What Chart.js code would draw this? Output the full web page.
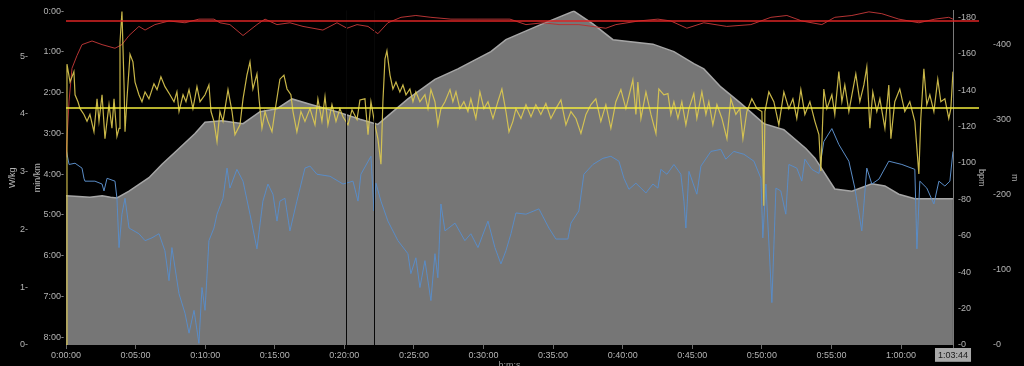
<!DOCTYPE html>
<html>
<head>
<meta charset="utf-8">
<script src="https://cdn.jsdelivr.net/npm/chart.js@4/dist/chart.umd.min.js"></script>
<style>
  html, body { margin: 0; padding: 0; background: #000; }
  canvas { display: block; }
</style>
</head>
<body>
<canvas id="activity-chart" width="1024" height="366"></canvas>
<script>
// time values are in minutes from start
let powerT = [
  0,0.07,0.29,0.57,0.65,0.86,1.01,1.29,1.51,1.72,
  2.01,2.23,2.37,2.59,2.80,3.09,3.30,3.45,3.66,3.81,
  3.88,4.02,4.17,4.24,4.38,4.53,4.60,4.81,4.96,5.24,
  5.46,5.68,5.96,6.32,6.54,6.82,7.11,7.47,7.76,7.97,
  8.12,8.41,8.62,8.84,9.12,9.41,9.63,9.99,10.27,10.42,
  10.63,10.85,11.06,11.28,11.64,11.93,12.14,12.50,12.72,13.00,
  13.22,13.43,13.72,13.87,14.08,14.30,14.51,14.80,15.01,15.37,
  15.66,15.88,16.16,16.31,16.59,16.88,17.17,17.53,17.89,18.10,
  18.39,18.61,18.82,19.11,19.40,19.68,19.90,20.26,20.55,20.91,
  21.12,21.48,21.70,21.91,22.20,22.41,22.63,22.77,22.92,23.06,
  23.28,23.49,23.71,23.99,24.21,24.43,24.71,24.93,25.14,25.43,
  25.79,26.01,26.22,26.51,26.72,26.94,27.23,27.59,27.80,28.02,
  28.30,28.59,28.88,29.09,29.45,29.74,30.03,30.32,30.68,31.03,
  31.32,31.61,31.83,32.11,32.33,32.69,33.05,33.41,33.76,34.12,
  34.48,34.84,35.20,35.56,35.92,36.28,36.64,37.00,37.36,37.72,
  38.07,38.43,38.79,39.15,39.51,39.87,40.23,40.73,40.95,41.09,
  41.31,41.67,42.03,42.39,42.60,42.96,43.25,43.46,43.68,43.97,
  44.25,44.54,44.76,45.11,45.33,45.69,45.98,46.19,46.48,46.77,
  47.13,47.49,47.77,48.13,48.42,48.64,48.92,49.28,49.64,50.00,
  50.14,50.22,50.50,50.86,51.22,51.58,51.94,52.23,52.51,52.80,
  53.09,53.45,53.81,54.10,54.24,54.45,54.67,55.03,55.24,55.53,
  55.75,55.96,56.25,56.47,56.75,57.04,57.33,57.54,57.76,57.97,
  58.26,58.48,58.84,59.12,59.27,59.55,59.91,60.27,60.63,60.99,
  61.14,61.28,61.42,61.64,61.85,62.07,62.36,62.64,62.86,63.15,
  63.43,63.58,63.73
];
let powerWkg = [
  0,4.86,4.55,4.73,4.33,4.21,4.09,3.99,3.87,3.99,
  3.69,4.26,3.87,4.33,3.57,4.16,3.75,4.26,3.61,3.75,
  5.24,5.77,4.50,3.69,4.26,4.78,5.03,4.90,4.55,4.33,
  4.21,4.38,4.26,4.52,4.42,4.64,4.47,4.33,4.21,4.38,
  4.04,4.33,4.21,4.42,4.09,4.47,4.21,4.33,4.50,4.04,
  3.87,3.52,4.04,3.87,4.42,4.04,3.64,3.81,4.26,4.67,
  4.90,4.43,4.69,4.26,3.75,4.04,3.87,3.69,4.04,4.60,
  4.67,4.43,4.33,4.04,3.69,4.04,3.87,4.09,3.81,4.26,
  3.87,4.30,3.81,4.16,3.87,4.09,3.95,3.81,4.07,3.90,
  4.24,4.26,3.64,4.21,3.81,3.57,3.13,4.21,4.95,5.09,
  4.67,4.43,4.55,4.38,4.50,4.33,4.43,4.21,4.38,4.21,
  4.33,4.09,4.42,4.21,3.81,4.09,4.21,4.42,4.21,4.38,
  4.09,4.21,4.04,4.26,3.92,4.38,4.09,4.21,3.92,4.21,
  4.43,4.04,3.69,3.87,4.09,3.92,4.16,3.95,4.16,3.99,
  4.18,3.92,4.09,4.24,3.81,4.04,3.92,3.66,3.99,4.16,
  4.26,3.87,4.16,3.75,4.21,4.42,4.09,4.59,3.99,4.55,
  3.92,4.38,3.99,3.66,4.43,4.33,4.35,3.99,4.21,3.92,
  4.21,3.81,4.09,4.35,3.92,4.38,3.99,4.21,3.81,4.16,
  3.92,3.57,4.26,3.99,4.09,3.57,4.04,4.26,4.09,4.04,
  2.41,4.04,4.38,4.21,3.81,4.38,4.09,4.26,3.92,4.42,
  3.99,4.21,3.87,3.64,3.01,4.43,4.09,4.33,3.99,4.73,
  4.21,4.50,4.04,4.33,4.69,4.21,4.50,4.81,3.75,4.38,
  4.04,4.26,3.75,4.50,3.57,4.21,4.43,4.04,4.21,3.87,
  3.40,2.96,3.92,4.78,4.16,4.33,4.04,4.60,4.21,4.26,
  3.92,4.09,4.73
];
let hrT = [
  0,0.22,0.43,0.79,1.15,1.87,2.59,3.52,4.02,4.53,
  5.24,5.68,6.39,7.40,8.55,9.55,10.63,11.06,11.78,12.72,
  13.72,14.30,15.16,16.09,17.03,18.46,19.47,20.19,20.91,21.70,
  22.41,23.13,24.07,25.14,26.22,27.66,29.60,31.90,33.05,34.27,
  35.42,36.85,38.79,39.51,41.16,42.53,43.46,44.61,45.83,47.48,
  49.21,50.65,51.80,52.87,54.31,55.24,56.47,57.69,58.62,59.84,
  61.28,62.43,63.43,63.73
];
let hrBpm = [
  103,134,152,159,165,167,165,163,165,170,
  175,173,176,178,177,179,179,177,176,170,
  176,179,176,177,175,173,177,174,176,175,
  171,177,180,181,180,179,179,179,176,177,
  176,176,174,176,178,179,178,174,177,175,
  176,180,181,178,176,180,181,183,182,179,
  177,179,180,179
];
let paceT = [
  0,0.22,0.65,1.15,1.29,1.36,2.08,2.59,2.73,2.95,
  3.52,3.66,3.81,4.02,4.24,4.53,5.24,5.68,6.18,6.68,
  7.11,7.40,7.61,8.12,8.55,8.84,9.20,9.55,9.77,9.99,
  10.27,10.63,10.85,11.28,11.57,11.78,12.28,12.72,13.22,13.72,
  14.15,14.51,14.87,15.16,15.37,15.73,16.09,16.59,17.17,17.53,
  18.03,18.97,19.90,20.62,20.98,21.19,21.91,22.13,22.27,22.63,
  23.13,23.85,24.57,24.78,25.14,25.43,25.79,26.22,26.51,26.72,
  26.94,27.23,27.95,28.66,29.09,29.60,30.32,30.82,31.25,31.61,
  31.97,32.33,33.05,33.98,34.70,35.20,36.06,36.28,36.85,37.21,
  37.86,38.58,39.15,39.73,40.09,40.45,40.95,41.67,42.17,42.53,
  42.74,43.18,43.68,44.18,44.40,44.54,44.76,45.33,45.62,46.34,
  47.05,47.41,47.99,48.71,49.43,49.93,50.07,50.29,50.72,51.01,
  51.36,51.72,51.94,52.51,52.87,53.09,53.59,54.10,54.45,55.03,
  55.53,56.25,56.68,57.18,57.54,57.90,58.41,59.12,60.06,60.99,
  61.14,61.35,61.85,62.36,62.72,63.15,63.51,63.73
];
// pace in minutes per km
let paceMin = [
  3.37,3.76,3.73,3.85,4.10,4.17,4.17,4.24,4.41,4.10,
  4.17,4.59,5.80,4.98,4.59,5.32,5.46,5.63,5.56,5.46,
  5.88,6.61,5.80,6.93,7.41,7.90,7.34,8.15,6.78,7.34,
  5.63,5.32,4.98,4.59,3.85,4.34,3.88,4.17,4.98,5.83,
  4.66,4.24,4.49,5.15,4.66,4.59,5.39,4.66,3.85,3.80,
  4.00,4.05,4.24,4.17,4.66,4.00,3.56,4.90,4.22,4.66,
  5.15,5.63,5.95,6.44,6.05,6.78,6.12,7.10,5.95,6.54,
  4.73,5.39,5.20,5.63,5.46,5.80,5.15,5.80,6.20,5.88,
  5.46,4.95,4.98,4.85,5.32,5.59,5.59,5.20,4.90,4.00,
  3.76,3.61,3.56,3.68,4.10,4.37,4.22,4.46,4.24,4.34,
  3.88,4.00,3.76,4.00,4.66,5.32,3.93,4.49,3.80,3.44,
  3.39,3.63,3.44,3.51,3.68,4.10,5.56,4.24,7.15,4.34,
  4.41,4.98,3.76,3.85,4.17,3.63,3.88,3.98,3.20,2.88,
  3.27,3.68,4.34,5.39,3.85,4.24,4.12,3.68,3.76,3.88,
  5.83,4.17,4.34,4.73,4.17,4.29,4.17,3.44
];
let elevT = [
  0,0.9,1.72,2.6,3.2,3.66,4.53,5.96,6.90,8.12,
  9.27,9.99,11.2,12.72,13.94,15.16,16.24,17.53,19.47,21.12,
  22.41,24.57,26.51,28.16,30.53,31.61,33.98,36.49,37.86,39.30,
  42.17,43.68,45.11,45.83,47.05,48.49,50.14,51.58,53.16,53.81,
  55.24,56.47,57.90,58.84,59.84,60.99,62.43,63.73
];
let elevM = [
  199,198,197,199,197,196,205,223,241,262,
  282,297,299,295,311,315,328,321,311,301,
  294,328,354,368,391,407,426,445,428,407,
  401,391,375,368,344,322,295,287,262,249,
  208,205,215,212,201,195,195,195
];
let lapTimes = [20.11, 22.13];
let powerAvg = 4.10;
let hrRef = 178;

let xTicks = [0, 5, 10, 15, 20, 25, 30, 35, 40, 45, 50, 55, 60, 3824 / 60];
let wkgTicks = [0, 1, 2, 3, 4, 5];
let paceTicks = [0, 1, 2, 3, 4, 5, 6, 7, 8];
let bpmTicks = [0, 20, 40, 60, 80, 100, 120, 140, 160, 180];
let elevTicks = [0, 100, 200, 300, 400];

let pad2 = (n) => (n < 10 ? "0" : "") + n;
let hms = (v) => {
  let s = Math.round(v * 60);
  return Math.floor(s / 3600) + ":" + pad2(Math.floor((s % 3600) / 60)) + ":" + pad2(s % 60);
};
let toPoints = (xs, ys) => xs.map((x, i) => ({ x: x, y: ys[i] }));
let setTicks = (vals) => (scale) => {
  scale.ticks = vals.map((v) => ({ value: v }));
};
let fixWidth = (w) => (scale) => {
  scale.width = w;
};

let labelColor = "#b4b4b4";
let tickFont = { size: 9 };
let noGrid = { display: false, drawTicks: false };

// lap markers and average lines
let refLines = {
  id: "refLines",
  afterDatasetsDraw(chart) {
    let { ctx, chartArea, scales } = chart;
    ctx.save();
    ctx.lineWidth = 1;
    ctx.strokeStyle = "#080808";
    lapTimes.forEach((t) => {
      let x = Math.round(scales.x.getPixelForValue(t)) + 0.5;
      ctx.beginPath();
      ctx.moveTo(x, chartArea.top);
      ctx.lineTo(x, chartArea.bottom);
      ctx.stroke();
    });
    ctx.lineWidth = 1.5;
    let yp = scales.wkg.getPixelForValue(powerAvg);
    ctx.strokeStyle = "#f4ec3c";
    ctx.beginPath();
    ctx.moveTo(chartArea.left, yp);
    ctx.lineTo(chartArea.right + 26, yp);
    ctx.stroke();
    let yh = scales.bpm.getPixelForValue(hrRef);
    ctx.strokeStyle = "#dc2424";
    ctx.beginPath();
    ctx.moveTo(chartArea.left, yh);
    ctx.lineTo(chartArea.right + 26, yh);
    ctx.stroke();
    ctx.restore();
  },
};

Chart.defaults.font.family = "'Liberation Sans', Arial, sans-serif";
Chart.defaults.color = labelColor;

new Chart(document.getElementById("activity-chart"), {
  type: "line",
  data: {
    datasets: [
      {
        label: "W/kg",
        data: toPoints(powerT, powerWkg),
        yAxisID: "wkg",
        borderColor: "rgba(222, 202, 80, 0.9)",
        borderWidth: 1.2,
        pointRadius: 0,
        tension: 0,
        order: 1,
      },
      {
        label: "bpm",
        data: toPoints(hrT, hrBpm),
        yAxisID: "bpm",
        borderColor: "#b53434",
        borderWidth: 1,
        pointRadius: 0,
        tension: 0,
        order: 2,
      },
      {
        label: "min/km",
        data: toPoints(paceT, paceMin),
        yAxisID: "pace",
        borderColor: "#5a8cc6",
        borderWidth: 1,
        pointRadius: 0,
        tension: 0,
        order: 3,
      },
      {
        label: "m",
        data: toPoints(elevT, elevM),
        yAxisID: "elev",
        fill: "origin",
        backgroundColor: "#767676",
        borderColor: "#a6a6a6",
        borderWidth: 1.5,
        pointRadius: 0,
        tension: 0,
        order: 4,
      },
    ],
  },
  options: {
    responsive: false,
    animation: false,
    devicePixelRatio: 1,
    layout: { padding: { top: 8, left: 0, right: 0, bottom: 0 } },
    plugins: { legend: { display: false }, tooltip: { enabled: false } },
    scales: {
      x: {
        type: "linear",
        min: 0,
        max: 3824 / 60,
        afterBuildTicks: setTicks(xTicks),
        afterFit: (s) => { s.height = 21; },
        grid: { drawOnChartArea: false, drawTicks: true, tickLength: 4, color: "#6a6a6a" },
        border: { display: false },
        ticks: {
          autoSkip: false,
          maxRotation: 0,
          padding: 1,
          font: tickFont,
          callback: (v) => hms(v),
          color: (c) => (c.index === xTicks.length - 1 ? "#1a1a1a" : labelColor),
          showLabelBackdrop: (c) => c.index === xTicks.length - 1,
          backdropColor: "#a9a9a9",
          backdropPadding: { top: 2, bottom: 1, left: 3, right: 3 },
        },
        title: { display: true, text: "h:m:s", font: { size: 9 }, color: "#9a9a9a", padding: { top: 0, bottom: -5 } },
      },
      wkg: {
        position: "left",
        weight: 2,
        min: 0,
        max: 5.79,
        afterBuildTicks: setTicks(wkgTicks),
        afterFit: fixWidth(30),
        grid: noGrid,
        border: { display: false },
        ticks: { font: tickFont, padding: 2, callback: (v) => v + "-" },
        title: { display: true, text: "W/kg", font: { size: 9 }, padding: { top: 7, bottom: 0 } },
      },
      pace: {
        position: "left",
        weight: 1,
        reverse: true,
        min: -0.02,
        max: 8.19,
        afterBuildTicks: setTicks(paceTicks),
        afterFit: fixWidth(36),
        grid: noGrid,
        border: { display: false },
        ticks: { font: tickFont, padding: 2, callback: (v) => v + ":00-" },
        title: { display: true, text: "min/km", font: { size: 9 }, padding: { top: 2, bottom: 0 } },
      },
      bpm: {
        position: "right",
        weight: 1,
        min: 0,
        max: 183.8,
        afterBuildTicks: setTicks(bpmTicks),
        afterFit: fixWidth(37),
        grid: noGrid,
        border: { display: true, color: "#7a7a7a", width: 1 },
        ticks: { font: tickFont, padding: 5, callback: (v) => "-" + v },
        title: { display: true, text: "bpm", font: { size: 9 }, padding: { top: 3, bottom: 0 } },
      },
      elev: {
        position: "right",
        weight: 2,
        min: 0,
        max: 446,
        afterBuildTicks: setTicks(elevTicks),
        afterFit: fixWidth(34),
        grid: noGrid,
        border: { display: false },
        ticks: { font: tickFont, padding: 3, callback: (v) => "-" + v },
        title: { display: true, text: "m", font: { size: 9 }, padding: { top: 4, bottom: 0 } },
      },
    },
  },
  plugins: [refLines],
});
</script>
</body>
</html>
